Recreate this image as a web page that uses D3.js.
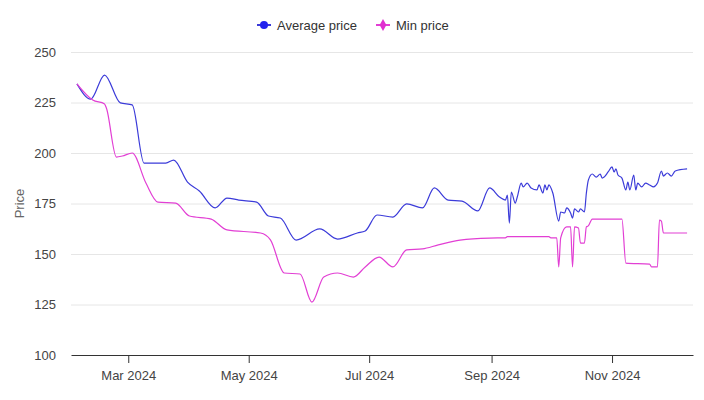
<!DOCTYPE html>
<html><head><meta charset="utf-8">
<script src="https://cdn.jsdelivr.net/npm/d3@7"></script>
<style>body{margin:0;background:#fff;}svg{display:block;font-family:"Liberation Sans",Arial,sans-serif;}</style>
</head><body>
<svg id="chart" width="704" height="400"></svg>
<script>
const seriesNames = ["Average price", "Min price"];
const seriesColors = ["#3b3bd9", "#e23fd4"];
const yTicks = [100, 125, 150, 175, 200, 225, 250];
const xTickDates = ["2024-03-01", "2024-05-01", "2024-07-01", "2024-09-01", "2024-11-01"];

const avgDates = ["2024-02-04","2024-02-11","2024-02-18","2024-02-26","2024-03-03","2024-03-09","2024-03-20","2024-03-24","2024-03-31","2024-04-06","2024-04-14","2024-04-20","2024-04-26","2024-05-05","2024-05-11","2024-05-17","2024-05-25","2024-06-06","2024-06-15","2024-06-25","2024-06-29","2024-07-05","2024-07-13","2024-07-20","2024-07-28","2024-08-03","2024-08-10","2024-08-17","2024-08-25","2024-08-31","2024-09-05","2024-09-08","2024-09-09","2024-09-10","2024-09-11","2024-09-13","2024-09-14","2024-09-16","2024-09-17","2024-09-19","2024-09-21","2024-09-24","2024-09-25","2024-09-27","2024-09-28","2024-09-29","2024-09-30","2024-10-02","2024-10-05","2024-10-06","2024-10-08","2024-10-09","2024-10-11","2024-10-12","2024-10-13","2024-10-15","2024-10-16","2024-10-18","2024-10-19","2024-10-20","2024-10-22","2024-10-24","2024-10-26","2024-10-27","2024-10-28","2024-10-30","2024-11-01","2024-11-02","2024-11-03","2024-11-04","2024-11-06","2024-11-08","2024-11-09","2024-11-10","2024-11-12","2024-11-13","2024-11-14","2024-11-16","2024-11-18","2024-11-20","2024-11-22","2024-11-24","2024-11-26","2024-11-27","2024-11-29","2024-12-01","2024-12-03","2024-12-09"];
const avgValues = [234.2,226.7,238.6,224.8,223.8,195.0,195.0,196.5,185.6,181.2,172.8,177.7,176.7,175.7,168.8,167.8,156.9,162.4,157.4,160.4,161.4,169.3,168.3,174.8,172.8,182.7,176.7,176.2,171.3,182.7,178.2,176.7,179.2,165.3,180.7,175.2,178.2,185.1,183.2,185.1,182.7,181.7,184.2,180.2,184.2,181.7,184.2,180.2,166.3,170.8,170.3,172.8,170.3,167.8,172.3,170.8,172.3,170.8,180.2,186.6,189.6,188.1,189.6,187.6,188.1,190.6,193.1,190.6,192.1,189.1,187.6,181.7,185.6,181.7,189.1,181.7,185.1,183.2,185.1,184.2,183.2,185.1,191.1,188.6,190.1,188.6,191.1,192.1];

const minDates = ["2024-02-04","2024-02-12","2024-02-18","2024-02-19","2024-02-24","2024-02-27","2024-03-03","2024-03-10","2024-03-16","2024-03-25","2024-04-01","2024-04-12","2024-04-20","2024-05-07","2024-05-12","2024-05-19","2024-05-27","2024-06-02","2024-06-08","2024-06-15","2024-06-23","2024-06-29","2024-07-06","2024-07-13","2024-07-20","2024-07-28","2024-08-05","2024-08-16","2024-08-31","2024-09-08","2024-09-09","2024-09-30","2024-10-01","2024-10-04","2024-10-05","2024-10-06","2024-10-09","2024-10-11","2024-10-12","2024-10-13","2024-10-15","2024-10-16","2024-10-18","2024-10-19","2024-10-20","2024-10-22","2024-11-06","2024-11-08","2024-11-20","2024-11-21","2024-11-24","2024-11-25","2024-11-26","2024-11-27","2024-12-09"];
const minValues = [234.2,226.2,224.3,222.0,198.0,198.5,200.0,185.0,175.7,175.2,168.8,167.3,161.9,160.4,157.0,140.6,140.1,126.2,138.6,140.6,138.6,143.6,148.5,143.6,152.0,152.5,154.5,156.9,157.9,158.0,158.6,158.6,158.0,158.0,143.6,158.0,163.4,163.4,143.6,163.4,162.9,155.4,155.4,163.4,163.9,167.3,167.3,145.5,145.0,143.6,143.6,166.8,166.3,160.4,160.4];

const parse = d3.timeParse("%Y-%m-%d");
const svg = d3.select("#chart");
const mLeft = 71, mRight = 693, mTop = 52, mBottom = 355;

const x = d3.scaleTime().domain([parse("2024-02-01"), parse("2024-12-12")]).range([mLeft, mRight]);
const y = d3.scaleLinear().domain([100, 250]).range([mBottom, mTop]);

// grid
svg.append("g").selectAll("line").data(yTicks.filter(t => t !== 100)).join("line")
  .attr("x1", mLeft).attr("x2", mRight)
  .attr("y1", d => y(d) + 0.5).attr("y2", d => y(d) + 0.5)
  .attr("stroke", "#e6e6e6").attr("stroke-width", 1);

// y labels
svg.append("g").selectAll("text").data(yTicks).join("text")
  .attr("x", 56).attr("y", d => y(d)).attr("dy", "0.35em")
  .attr("text-anchor", "end").attr("font-size", 13).attr("fill", "#444")
  .text(d => d);

svg.append("text").attr("transform", "translate(24," + ((mTop + mBottom) / 2) + ") rotate(-90)")
  .attr("text-anchor", "middle").attr("font-size", 13).attr("fill", "#666").text("Price");

// x axis
const xAxis = d3.axisBottom(x).tickValues(xTickDates.map(parse)).tickFormat(d3.timeFormat("%b %Y")).tickSize(8).tickSizeOuter(0).tickPadding(8);
const gx = svg.append("g").attr("transform", "translate(0," + mBottom + ")").call(xAxis);
gx.select(".domain").attr("stroke", "#333");
gx.selectAll(".tick line").attr("stroke", "#333");
gx.selectAll(".tick text").attr("font-size", 13).attr("fill", "#444").attr("font-family", "Liberation Sans, Arial, sans-serif");

// lines
const line = d3.line().x(d => x(d[0])).y(d => y(d[1])).curve(d3.curveMonotoneX);
const series = [
  avgDates.map((d, i) => [parse(d), avgValues[i]]),
  minDates.map((d, i) => [parse(d), minValues[i]])
];
series.forEach((s, i) => {
  svg.append("path").datum(s).attr("d", line).attr("fill", "none")
    .attr("stroke", seriesColors[i]).attr("stroke-width", 1.2).attr("stroke-linejoin", "round");
});

// legend
const legendX = [257, 376];
const lg = svg.append("g");
seriesNames.forEach((name, i) => {
  const g = lg.append("g").attr("transform", "translate(" + legendX[i] + ",25)");
  g.append("line").attr("x1", 0).attr("x2", 14).attr("y1", 0).attr("y2", 0).attr("stroke", seriesColors[i]).attr("stroke-width", 2);
  if (i === 0) g.append("circle").attr("cx", 7).attr("cy", 0).attr("r", 4).attr("fill", "#2323ee");
  else g.append("path").attr("d", d3.symbol(d3.symbolDiamond, 40)()).attr("transform", "translate(7,0)").attr("fill", "#e030d0");
  g.append("text").attr("x", 20).attr("y", 0).attr("dy", "0.35em").attr("font-size", 13).attr("fill", "#333").text(name);
});
</script>
</body></html>
